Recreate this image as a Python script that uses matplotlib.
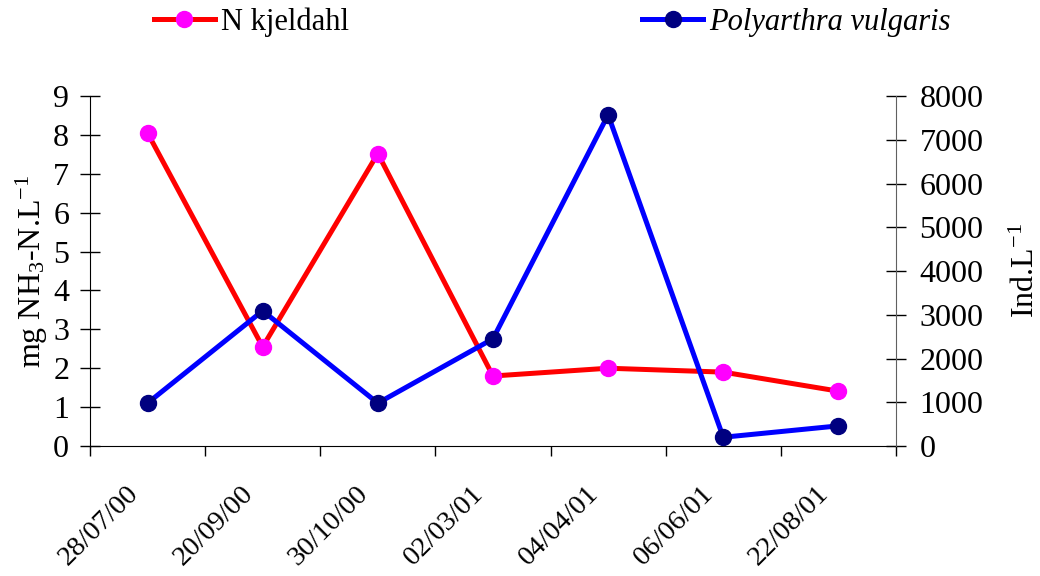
import numpy as np
import matplotlib.pyplot as plt
import matplotlib.transforms as mtransforms

plt.rcParams['font.family'] = ['Liberation Serif', 'DejaVu Serif']
plt.rcParams['mathtext.fontset'] = 'custom'
plt.rcParams['mathtext.rm'] = 'Liberation Serif'
plt.rcParams['mathtext.it'] = 'Liberation Serif:italic'

dates = ["28/07/00", "20/09/00", "30/10/00", "02/03/01", "04/04/01", "06/06/01", "22/08/01"]
n_kjeldahl = [8.05, 2.55, 7.52, 1.8, 2.0, 1.9, 1.41]
polyarthra = [980, 3090, 980, 2450, 7570, 200, 460]

fig = plt.figure(figsize=(10.4, 5.76), dpi=100)
ax = fig.add_axes([0.0865, 0.2257, 0.775, 0.6076])
ax2 = ax.twinx()

x = np.arange(len(dates))
l1, = ax.plot(x, n_kjeldahl, color="#ff0000", linewidth=3.6, marker="o",
              markersize=11.5, markerfacecolor="#ff00ff", markeredgecolor="#ff00ff")
l2, = ax2.plot(x, polyarthra, color="#0000ff", linewidth=3.6, marker="o",
               markersize=11.5, markerfacecolor="#000080", markeredgecolor="#000080")

ax.set_xlim(-0.5, len(dates) - 0.5)
ax.set_ylim(0, 9)
ax2.set_ylim(0, 8000)
ax.set_yticks(range(10))
ax2.set_yticks(range(0, 8001, 1000))

# ticks between categories, labels drawn at category centres
ax.set_xticks(np.arange(len(dates) + 1) - 0.5)
ax.set_xticklabels([])
ax.tick_params(axis="x", which="major", length=7, direction="out", width=1)
lab_trans = ax.get_xaxis_transform() + mtransforms.ScaledTranslation(
    -0.22, -0.35, fig.dpi_scale_trans)
for xi, d in zip(x, dates):
    ax.text(xi, 0, d, transform=lab_trans, rotation=45, ha="right", va="top",
            rotation_mode="anchor", fontsize=20.5)

ax.tick_params(axis="y", direction="inout", length=14, width=1, labelsize=23, pad=8)
ax2.tick_params(axis="y", direction="inout", length=14, width=1, labelsize=23, pad=10)

for a in (ax, ax2):
    a.spines["top"].set_visible(False)
ax.spines["right"].set_visible(False)
ax2.spines["left"].set_visible(False)
ax2.spines["bottom"].set_visible(False)
ax2.spines["right"].set_color("#606060")

ax.set_ylabel("mg NH$_3$-N.L$^{-1}$", fontsize=23, labelpad=2)
ax2.set_ylabel("Ind.L$^{-1}$", fontsize=23, labelpad=20)

leg = fig.legend([l1, l2], ["N kjeldahl", "Polyarthra vulgaris"], loc="center",
                 bbox_to_anchor=(0.531, 0.962), ncol=2, frameon=False, fontsize=22,
                 columnspacing=9.6, handlelength=2.0, handletextpad=0.2)
leg.get_texts()[1].set_style("italic")

fig.savefig("out.png", dpi=100)
